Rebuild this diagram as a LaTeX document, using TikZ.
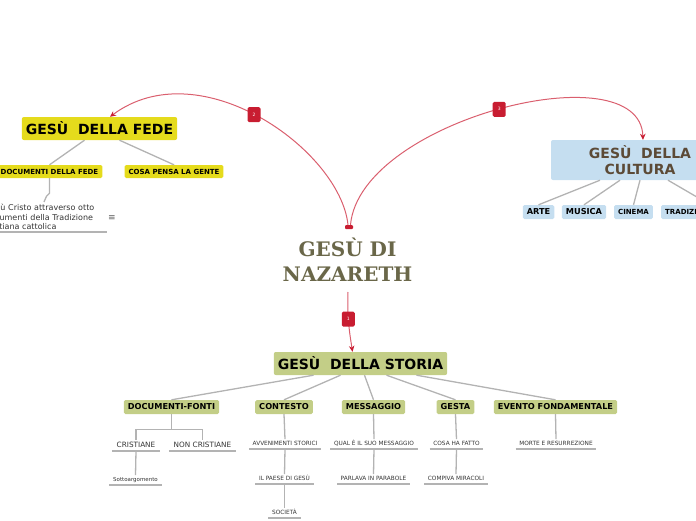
\documentclass[tikz,border=0pt]{standalone}
\usepackage{fontspec}
\setmainfont{DejaVu Sans}
\newfontfamily\serifT{DejaVu Serif}
\usetikzlibrary{arrows.meta,calc}
\definecolor{grayline}{HTML}{B3B3B3}
\definecolor{storiaG}{HTML}{C3CE87}
\definecolor{fedeY}{HTML}{E5DB1C}
\definecolor{cultB}{HTML}{C5DEF0}
\definecolor{cultText}{HTML}{5C4A36}
\definecolor{centralText}{HTML}{6A6749}
\definecolor{arrowRed}{HTML}{DA5F6E}
\definecolor{badgeRed}{HTML}{C81D31}
\definecolor{leafText}{HTML}{333333}
\newcommand\FS[2]{\fontsize{#1}{#2}\selectfont}
\begin{document}
\begin{tikzpicture}[x=1pt,y=-1pt,
  bigbox/.style={rounded corners=2pt, inner xsep=4pt, inner ysep=0pt, minimum height=23pt, font=\bfseries\FS{14}{16}},
  midbox/.style={rounded corners=1.5pt, inner xsep=4pt, inner ysep=0pt, minimum height=14pt, font=\bfseries\FS{8.2}{9}},
  smallbox/.style={midbox, minimum height=13pt, font=\bfseries\FS{7}{8}},
  uline/.style={draw=grayline, line width=1.2pt},
  leafnode/.style={font=\FS{5.8}{6}, text=leafText, inner xsep=3.5pt, inner ysep=2pt, text height=4.2pt, text depth=1.2pt, anchor=south,
     append after command={(\tikzlastnode.south west) edge[uline] (\tikzlastnode.south east)}},
  conn/.style={draw=grayline, line width=1.3pt},
  relarrow/.style={draw=arrowRed, line width=1pt, -{Stealth[length=6pt,width=5.5pt,color=badgeRed]}},
  badge/.style={fill=badgeRed, text=white, rounded corners=1.5pt, minimum width=13pt, minimum height=15pt, inner sep=0pt, font=\FS{4.5}{5}}
]
\useasboundingbox (0,0) rectangle (696,520);
\clip (0,0) rectangle (696,520);

% central topic
\node[font=\serifT\bfseries\FS{20}{24.5}, text=centralText, align=center, inner sep=0pt] (naz) at (347.5,259.5) {GESÙ DI\\NAZARETH};
\node[fill=badgeRed, minimum width=8pt, minimum height=4pt, inner sep=0pt, rounded corners=1pt] (nazt) at (349,227) {};
\coordinate (nazbot) at (348,292);

% main topics
\node[bigbox, fill=storiaG] (storia) at (360.5,363.5) {GESÙ\ \ DELLA STORIA};
\node[bigbox, fill=fedeY] (fede) at (99.5,128.5) {GESÙ\ \ DELLA FEDE};
\node[bigbox, fill=cultB, text=cultText, minimum width=178pt, minimum height=40pt, align=center, font=\bfseries\FS{14}{16.5}] (cultura) at (640,160) {GESÙ\ \ DELLA\\CULTURA};

% relationship arrows
\draw[relarrow] (nazbot) .. controls (347,320) and (350,335) .. ([xshift=-8pt]storia.north)
   node[badge, pos=0.38] (b1) {1};
\draw[relarrow] ([xshift=-1pt]nazt.north) .. controls (340,150) and (200,50) .. ([xshift=10.5pt]fede.north)
   node[badge, pos=0.52] (b2) {2};
\draw[relarrow] ([xshift=1.5pt]nazt.north) .. controls (360,120) and (640,50) .. ([xshift=3pt]cultura.north)
   node[badge, pos=0.5] (b3) {3};

% STORIA children
\node[midbox, fill=storiaG] (docf) at (171.5,407) {DOCUMENTI-FONTI};
\node[midbox, fill=storiaG] (contesto) at (284,407) {CONTESTO};
\node[midbox, fill=storiaG] (messaggio) at (373.5,407) {MESSAGGIO};
\node[midbox, fill=storiaG] (gesta) at (455.5,407) {GESTA};
\node[midbox, fill=storiaG] (evento) at (555.5,407) {EVENTO FONDAMENTALE};

\draw[conn] ([xshift=-47pt]storia.south) -- (docf.north);
\draw[conn] ([xshift=-20pt]storia.south) -- (contesto.north);
\draw[conn] ([xshift=4pt]storia.south) -- (messaggio.north);
\draw[conn] ([xshift=26pt]storia.south) -- (gesta.north);
\draw[conn] ([xshift=56pt]storia.south) -- (evento.north);

% leaves
\node[leafnode, font=\FS{7.3}{8}, text height=5.3pt, text depth=1.5pt, inner xsep=4.5pt] (cris) at (136,451) {CRISTIANE};
\node[leafnode, font=\FS{7.3}{8}, text height=5.3pt, text depth=1.5pt, inner xsep=4.5pt] (noncris) at (202.5,451) {NON CRISTIANE};
\node[leafnode, font=\FS{5.5}{6}] (sotto) at (135.5,485) {Sottoargomento};
\node[leafnode] (avv) at (285,449) {AVVENIMENTI STORICI};
\node[leafnode] (paese) at (284.5,484) {IL PAESE DI GESÙ};
\node[leafnode] (soc) at (284.5,518) {SOCIETÀ};
\node[leafnode] (qual) at (374,449) {QUAL È IL SUO MESSAGGIO};
\node[leafnode] (parab) at (373.5,484) {PARLAVA IN PARABOLE};
\node[leafnode] (cosa) at (456.5,449) {COSA HA FATTO};
\node[leafnode] (mirac) at (456,484) {COMPIVA MIRACOLI};
\node[leafnode] (morte) at (556,449) {MORTE E RESURREZIONE};

\draw[conn] (docf.south) -- ++(0,15) coordinate (docj);
\draw[conn] (cris.north) |- (docj) -| (noncris.north);
\draw[conn] (cris.south) -- (sotto.north);
\draw[conn] (contesto.south) -- (avv.north);
\draw[conn] (avv.south) -- (paese.north);
\draw[conn] (paese.south) -- (soc.north);
\draw[conn] (messaggio.south) -- (qual.north);
\draw[conn] (qual.south) -- (parab.north);
\draw[conn] (gesta.south) -- (cosa.north);
\draw[conn] (cosa.south) -- (mirac.north);
\draw[conn] (evento.south) -- (morte.north);

% FEDE children
\node[smallbox, fill=fedeY] (dfede) at (49.5,171.5) {DOCUMENTI DELLA FEDE};
\node[smallbox, fill=fedeY] (gente) at (174,171.5) {COSA PENSA LA GENTE};
\draw[conn] ([xshift=-15pt]fede.south) -- (dfede.north);
\draw[conn] ([xshift=20pt]fede.south) -- (gente.north);

\node[anchor=north west, font=\FS{8}{9.5}, text=leafText, text width=120pt, align=left, inner xsep=2pt, inner ysep=2pt,
   append after command={(\tikzlastnode.south west) edge[draw=grayline, line width=1.5pt] (\tikzlastnode.south east)}]
   (note) at (-17,202) {Gesù Cristo attraverso otto\\documenti della Tradizione\\cristiana cattolica};
\node[font=\FS{9}{9}, text=leafText!80] (menu) at (112,218) {≡};
\draw[conn] (dfede.south) -- ++(0,15) -- ++(-3,3) -- ([xshift=61pt]note.north west);

% CULTURA children
\node[midbox, fill=cultB] (arte) at (538.5,212) {ARTE};
\node[midbox, fill=cultB] (musica) at (584,212) {MUSICA};
\node[smallbox, fill=cultB, minimum height=14pt] (cinema) at (633.5,212) {CINEMA};
\node[smallbox, fill=cultB, minimum height=14pt, anchor=west] (tradiz) at (661,212) {TRADIZIONI};
\draw[conn] ([xshift=-40pt]cultura.south) -- (arte.north);
\draw[conn] ([xshift=-20pt]cultura.south) -- (musica.north);
\draw[conn] ([xshift=0pt]cultura.south) -- (cinema.north);
\draw[conn] ([xshift=28pt]cultura.south) -- ([xshift=22pt]tradiz.north);
\end{tikzpicture}
\end{document}
